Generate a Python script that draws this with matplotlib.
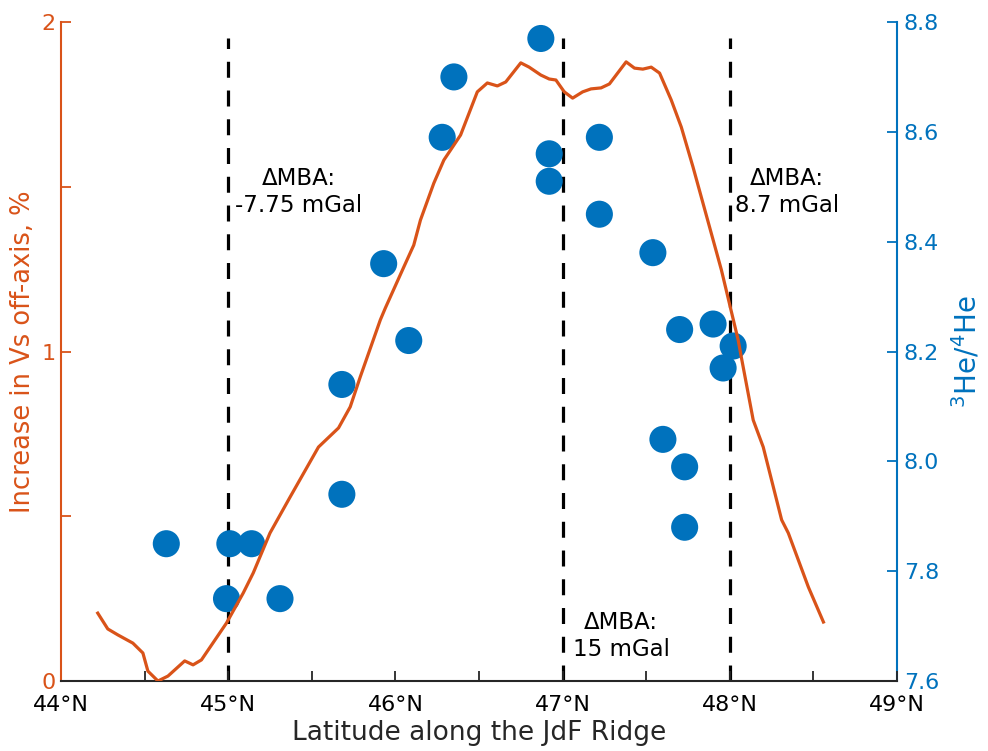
import numpy as np
import matplotlib
matplotlib.use('Agg')
import matplotlib.pyplot as plt

plt.rcParams['font.family'] = ['DejaVu Sans']

orange = '#D95319'
blue = '#0072BD'

# Vs increase along the ridge (left axis, %)
vs_lat = [44.22, 44.28, 44.34, 44.43, 44.49, 44.52, 44.58, 44.64, 44.74, 44.79,
          44.84, 44.99, 45.09, 45.15, 45.25, 45.37, 45.54, 45.66, 45.73, 45.79,
          45.91, 45.94, 46.05, 46.11, 46.15, 46.23, 46.29, 46.39, 46.49, 46.55,
          46.61, 46.66, 46.75, 46.80, 46.87, 46.92, 46.96, 47.01, 47.06, 47.12,
          47.17, 47.23, 47.28, 47.38, 47.43, 47.48, 47.53, 47.58, 47.65, 47.71,
          47.78, 47.95, 48.05, 48.07, 48.14, 48.20, 48.31, 48.35, 48.47, 48.56]
vs_inc = [0.206, 0.158, 0.140, 0.115, 0.085, 0.030, 0.000, 0.015, 0.061, 0.049,
          0.064, 0.176, 0.267, 0.328, 0.449, 0.558, 0.710, 0.768, 0.832, 0.923,
          1.096, 1.132, 1.256, 1.323, 1.399, 1.511, 1.581, 1.657, 1.788, 1.815,
          1.806, 1.818, 1.876, 1.863, 1.839, 1.827, 1.824, 1.788, 1.769, 1.788,
          1.797, 1.800, 1.812, 1.879, 1.860, 1.857, 1.863, 1.845, 1.763, 1.681,
          1.560, 1.247, 1.035, 0.980, 0.792, 0.710, 0.489, 0.449, 0.285, 0.179]

# 3He/4He samples (right axis)
he_lat = [44.63, 45.01, 45.14, 44.99, 45.31, 45.68, 45.68, 45.93, 46.08, 46.28,
          46.35, 46.87, 46.92, 46.92, 47.22, 47.22, 47.54, 47.70, 47.90, 48.02,
          47.96, 47.60, 47.73, 47.73]
he_ratio = [7.85, 7.85, 7.85, 7.75, 7.75, 7.94, 8.14, 8.36, 8.22, 8.59,
            8.70, 8.77, 8.56, 8.51, 8.59, 8.45, 8.38, 8.24, 8.25, 8.21,
            8.17, 8.04, 7.99, 7.88]

# segment boundaries and MBA annotations
seg_lat = [45, 47, 48]
mba_lat = [45.42, 47.35, 48.34]
mba_y = [1.484, 0.137, 1.484]
mba_txt = ['\u0394MBA:\n-7.75 mGal', '\u0394MBA:\n15 mGal', '\u0394MBA:\n8.7 mGal']

xticks = [44, 45, 46, 47, 48, 49]
xlabels = ['44\u00b0N', '45\u00b0N', '46\u00b0N', '47\u00b0N', '48\u00b0N', '49\u00b0N']

fig = plt.figure(figsize=(9.88, 7.51), dpi=100)
ax = fig.add_axes([0.0617, 0.0932, 0.8462, 0.8775])
ax2 = ax.twinx()

# dashed boundaries and points on the right axes (underneath)
ax2.vlines(seg_lat, 7.6, max(he_ratio), colors='black', linestyles=(0, (5, 4)),
           linewidth=2.3, zorder=1)
ax2.scatter(he_lat, he_ratio, s=380, color=blue, edgecolors='none', zorder=2)

# Vs curve on top
ax.set_zorder(ax2.get_zorder() + 1)
ax.patch.set_visible(False)
ax.plot(vs_lat, vs_inc, color=orange, linewidth=2.3, zorder=3)

for x, y, t in zip(mba_lat, mba_y, mba_txt):
    ax.text(x, y, t, ha='center', va='center', multialignment='center',
            fontsize=16.5, color='black')

ax.set_xlim(44, 49)
ax.set_ylim(0, 2)
ax2.set_ylim(7.6, 8.8)

ax.set_xticks(xticks)
ax.set_xticklabels(xlabels)
ax.set_xticks(np.arange(44.5, 49, 1.0), minor=True)
ax.set_yticks([0, 0.5, 1, 1.5, 2])
ax.set_yticklabels(['0', '', '1', '', '2'])
ax2.set_yticks(np.arange(7.6, 8.81, 0.2))
ax2.set_yticklabels(['%.1f' % v for v in np.arange(7.6, 8.81, 0.2)])

ax.tick_params(axis='x', which='both', direction='in', length=7, width=1.3,
               colors='#262626', labelcolor='black', labelsize=16, pad=10)
ax.tick_params(axis='y', direction='in', length=7, width=1.3, colors=orange,
               labelsize=16, pad=4)
ax2.tick_params(axis='y', direction='in', length=7, width=1.3, colors=blue,
                labelsize=16, pad=5)

for a in (ax, ax2):
    a.spines['top'].set_visible(False)
    for s in a.spines.values():
        s.set_linewidth(1.5)
ax.spines['left'].set_color(orange)
ax.spines['right'].set_visible(False)
ax.spines['bottom'].set_color('#262626')
ax2.spines['right'].set_color(blue)
ax2.spines['left'].set_visible(False)
ax2.spines['bottom'].set_visible(False)

ax.set_xlabel('Latitude along the JdF Ridge', fontsize=19, color='#262626', labelpad=4)
ax.set_ylabel('Increase in Vs off-axis, %', fontsize=18.5, color=orange, labelpad=4)
ax2.set_ylabel('$^3$He/$^4$He', fontsize=20, color=blue, labelpad=8)

fig.savefig('out.png', dpi=100)
